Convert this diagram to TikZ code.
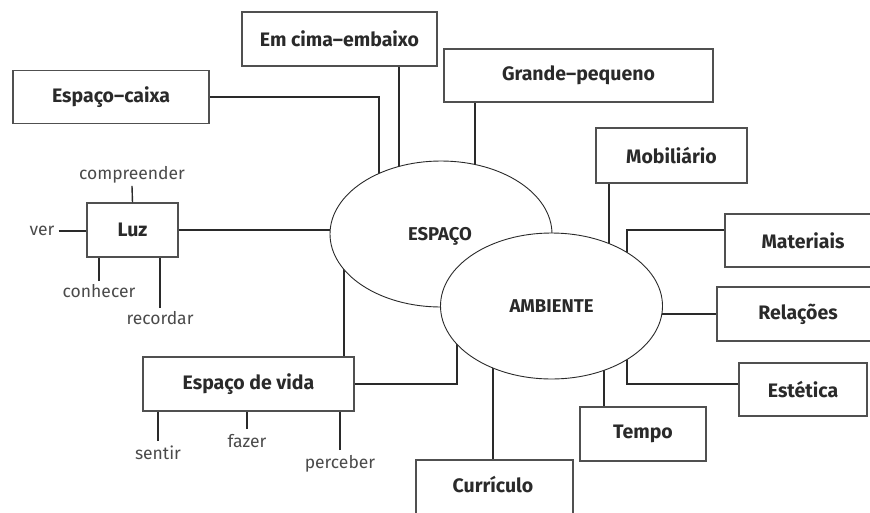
\documentclass[tikz,border=0pt]{standalone}
\usepackage{fontspec}
\setmainfont{Fira Sans}
\usetikzlibrary{shapes.geometric,calc,backgrounds}
\definecolor{ink}{HTML}{2A2A2A}
\definecolor{frame}{HTML}{505050}
\begin{document}
\begin{tikzpicture}[x=1pt,y=-1pt,
  lbl/.style={font=\fontsize{19.5}{22}\selectfont\bfseries, text=ink},
  box/.style={lbl, draw=frame, line width=1.1pt, fill=white, inner sep=0pt},
  ctext/.style={font=\fontsize{18.5}{21}\selectfont\bfseries, text=ink},
  blob/.style={ctext, ellipse, draw=ink, line width=0.9pt, fill=white, inner sep=0pt,
    minimum width=222pt, minimum height=146pt},
  verb/.style={font=\fontsize{17.5}{20}\selectfont, text=ink!85, inner xsep=1pt,
    inner ysep=0pt, text height=12pt, text depth=3.5pt},
  link/.style={draw=ink, line width=1.9pt},
  twig/.style={draw=ink, line width=1.4pt}]
\useasboundingbox (0,0) rectangle (870,512);

% ellipses
\node[blob] (esp) at (441,234) {};
\node[ctext] at (440,236) {ESPAÇO};
\node[blob] (amb) at (551.5,306) {AMBIENTE};

% boxes
\node[box, minimum width=195pt, minimum height=54pt] (emc) at (339.5,39) {Em cima–embaixo};
\node[box, minimum width=196pt, minimum height=53pt] (cx) at (111,97) {Espaço–caixa};
\node[box, minimum width=269pt, minimum height=53pt] (gp) at (578.5,75.5) {Grande–pequeno};
\node[box, minimum width=151pt, minimum height=55pt] (mob) at (671.5,155.5) {Mobiliário};
\node[box, minimum width=160pt, minimum height=53pt] (mat) at (805,240.5) {};
\node[lbl] at (803,240.5) {Materiais};
\node[box, minimum width=170pt, minimum height=54pt] (rel) at (802,314) {};
\node[lbl] at (798,314) {Relações};
\node[box, minimum width=128pt, minimum height=53pt] (est) at (803,389.5) {Estética};
\node[box, minimum width=126pt, minimum height=54pt] (tempo) at (643,434) {Tempo};
\node[box, minimum width=157pt, minimum height=56pt] (curr) at (494.5,488) {};
\node[lbl] at (493,485) {Currículo};
\node[box, minimum width=91pt, minimum height=54pt] (luz) at (132.5,230) {Luz};
\node[box, minimum width=211pt, minimum height=54pt] (vida) at (248.5,384) {Espaço de vida};

% verbs
\node[verb] (comp) at (132,175) {compreender};
\node[verb] (ver) at (42,231) {ver};
\node[verb] (conh) at (99,293) {conhecer};
\node[verb] (rec) at (160,320) {recordar};
\node[verb] (sent) at (158,455) {sentir};
\node[verb] (faz) at (247,443) {fazer};
\node[verb] (perc) at (340,464) {perceber};

\begin{pgfonlayer}{background}
  \draw[link] ([xshift=59.5pt]emc.south) -- ++(0,120);
  \draw[link] (cx.east) -| ([xshift=-62pt]esp.center);
  \draw[link] ([xshift=-103.5pt]gp.south) -- ++(0,90);
  \draw[link] (luz.east) -- (luz.east -| esp.center);
  \draw[link] ([xshift=95.5pt]vida.north) -- ++(0,-100);
  \draw[link] (vida.east) -| ([xshift=-94.5pt]amb.center);
  \draw[link] ([xshift=-1.5pt]curr.north) -- ++(0,-130);
  \draw[link] ([xshift=-39pt]tempo.north) -- ++(0,-80);
  \draw[link] ([yshift=5.5pt]est.west) -| ([xshift=75.5pt]amb.center);
  \draw[link] (rel.west) -- (rel.west -| amb.center);
  \draw[link] ([yshift=10.5pt]mat.west) -| ([xshift=75.5pt]amb.center);
  \draw[link] ([xshift=-62.5pt]mob.south) -- ++(0,100);
\end{pgfonlayer}

% small connectors
\draw[twig] ([yshift=-3pt]comp.south) -- (luz.north);
\draw[twig] ([xshift=3pt]ver.east) -- (ver.east -| luz.west);
\draw[twig] ([yshift=4pt]conh.north) -- (conh.north |- luz.south);
\draw[twig] ([yshift=4pt]rec.north) -- (rec.north |- luz.south);
\draw[twig] ([yshift=6pt]sent.north) -- (sent.north |- vida.south);
\draw[twig] ([yshift=6pt]faz.north) -- (faz.north |- vida.south);
\draw[twig] ([yshift=6pt]perc.north) -- (perc.north |- vida.south);
\end{tikzpicture}
\end{document}
